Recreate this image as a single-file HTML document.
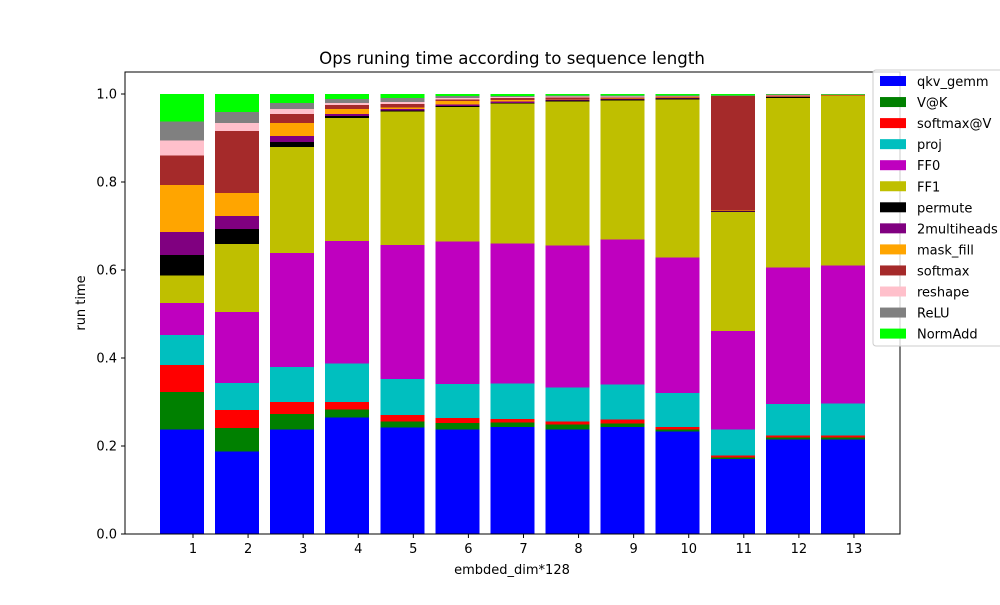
<!DOCTYPE html>
<html><head><meta charset="utf-8"><style>
body{margin:0;background:#fff;font-family:"Liberation Sans",sans-serif}
svg text{font-family:"DejaVu Sans","Liberation Sans",sans-serif}
</style></head><body>
<svg id="chart" width="1000" height="600">
<rect width="1000" height="600" fill="#fff"/>
<text x="512" y="64" font-size="16.6" text-anchor="middle">Ops runing time according to sequence length</text>
<g id="bars" shape-rendering="crispEdges"></g>
<rect x="125" y="72" width="775" height="462" fill="none" stroke="#000" stroke-width="1"/>
<g id="axes"></g>
<text x="512" y="574" font-size="13" text-anchor="middle">embded_dim*128</text>
<text x="0" y="0" font-size="13" text-anchor="middle" transform="translate(85,303) rotate(-90)">run time</text>
<g id="legend"></g>
</svg>
<script>
const categories=["1","2","3","4","5","6","7","8","9","10","11","12","13"];
const seriesNames=["qkv_gemm","V@K","softmax@V","proj","FF0","FF1","permute","2multiheads","mask_fill","softmax","reshape","ReLU","NormAdd"];
const seriesColors=["#0000ff","#008000","#ff0000","#00bfbf","#bf00bf","#bfbf00","#000000","#800080","#ffa500","#a52a2a","#ffc0cb","#808080","#00ff00"];
// cumulative top of each series per bar
const qkvTop=[.238,.188,.238,.265,.242,.238,.243,.238,.243,.233,.170,.215,.215];
const vkTop=[.323,.241,.273,.283,.256,.252,.253,.249,.251,.238,.174,.219,.219];
const smvTop=[.384,.282,.300,.300,.270,.264,.261,.256,.260,.243,.178,.224,.224];
const projTop=[.452,.343,.380,.388,.352,.341,.342,.333,.340,.321,.237,.296,.297];
const ff0Top=[.525,.505,.639,.666,.657,.665,.660,.656,.669,.628,.461,.606,.610];
const ff1Top=[.587,.659,.880,.945,.960,.970,.978,.983,.985,.988,.732,.991,.995];
const permuteTop=[.634,.693,.891,.950,.963,.973,.980,.985,.988,.990,.733,.993,.995];
const multiTop=[.686,.723,.905,.955,.966,.976,.983,.987,.989,.991,.734,.994,.996];
const maskTop=[.793,.775,.934,.966,.969,.984,.986,.989,.990,.992,.735,.995,.997];
const softmaxTop=[.860,.916,.955,.975,.977,.988,.991,.992,.992,.994,.995,.997,.998];
const reshapeTop=[.894,.934,.966,.980,.982,.991,.993,.994,.994,.995,.996,.998,.998];
const reluTop=[.937,.959,.980,.989,.991,.995,.996,.997,.997,.997,.997,.999,.999];
const normTop=[1,1,1,1,1,1,1,1,1,1,1,1,1];
const yTicks=[0,0.2,0.4,0.6,0.8,1.0];
const yTickLabels=["0.0","0.2","0.4","0.6","0.8","1.0"];

const tops=[qkvTop,vkTop,smvTop,projTop,ff0Top,ff1Top,permuteTop,multiTop,maskTop,softmaxTop,reshapeTop,reluTop,normTop];
const NS="http://www.w3.org/2000/svg";
function xPos(i){return 182+55.08*i;}
function yPos(v){return 534-440*v;}
const barW=44;
const bars=document.getElementById('bars');
for(let s=0;s<tops.length;s++){
  for(let i=0;i<categories.length;i++){
    const lo=s===0?0:tops[s-1][i], hi=tops[s][i];
    const r=document.createElementNS(NS,'rect');
    r.setAttribute('x',xPos(i)-barW/2);
    r.setAttribute('y',yPos(hi));
    r.setAttribute('width',barW);
    r.setAttribute('height',Math.max(0,yPos(lo)-yPos(hi)));
    r.setAttribute('fill',seriesColors[s]);
    
    
    bars.appendChild(r);
  }
}
const axes=document.getElementById('axes');
yTicks.forEach((t,k)=>{
  const y=yPos(t);
  const l=document.createElementNS(NS,'line');
  l.setAttribute('x1',121);l.setAttribute('x2',125);l.setAttribute('y1',y);l.setAttribute('y2',y);l.setAttribute('stroke','#000');
  
  
  axes.appendChild(l);
  const tx=document.createElementNS(NS,'text');
  tx.setAttribute('x',117);tx.setAttribute('y',y+4.5);tx.setAttribute('font-size','13');tx.setAttribute('text-anchor','end');
  tx.textContent=yTickLabels[k];
  
  
  axes.appendChild(tx);
});
categories.forEach((c,i)=>{
  const x=xPos(i)+11;
  const l=document.createElementNS(NS,'line');
  l.setAttribute('x1',x);l.setAttribute('x2',x);l.setAttribute('y1',534);l.setAttribute('y2',538);l.setAttribute('stroke','#000');
  
  
  axes.appendChild(l);
  const tx=document.createElementNS(NS,'text');
  tx.setAttribute('x',x);tx.setAttribute('y',553);tx.setAttribute('font-size','13');tx.setAttribute('text-anchor','middle');
  tx.textContent=c;
  
  
  axes.appendChild(tx);
});
const lg=document.getElementById('legend');
const box=document.createElementNS(NS,'rect');
box.setAttribute('x',873);box.setAttribute('y',70);box.setAttribute('width',140);box.setAttribute('height',276);box.setAttribute('rx',3);
box.setAttribute('fill','#fff');box.setAttribute('fill-opacity','0.8');box.setAttribute('stroke','#ccc');


lg.appendChild(box);
seriesNames.forEach((n,s)=>{
  const y=81+21.05*s;
  const p=document.createElementNS(NS,'rect');
  p.setAttribute('x',880);p.setAttribute('y',y-5);p.setAttribute('width',26);p.setAttribute('height',10);p.setAttribute('fill',seriesColors[s]);
  
  
  lg.appendChild(p);
  const tx=document.createElementNS(NS,'text');
  tx.setAttribute('x',917);tx.setAttribute('y',y+5);tx.setAttribute('font-size','13');
  tx.textContent=n;
  
  
  lg.appendChild(tx);
});
</script>
</body></html>
